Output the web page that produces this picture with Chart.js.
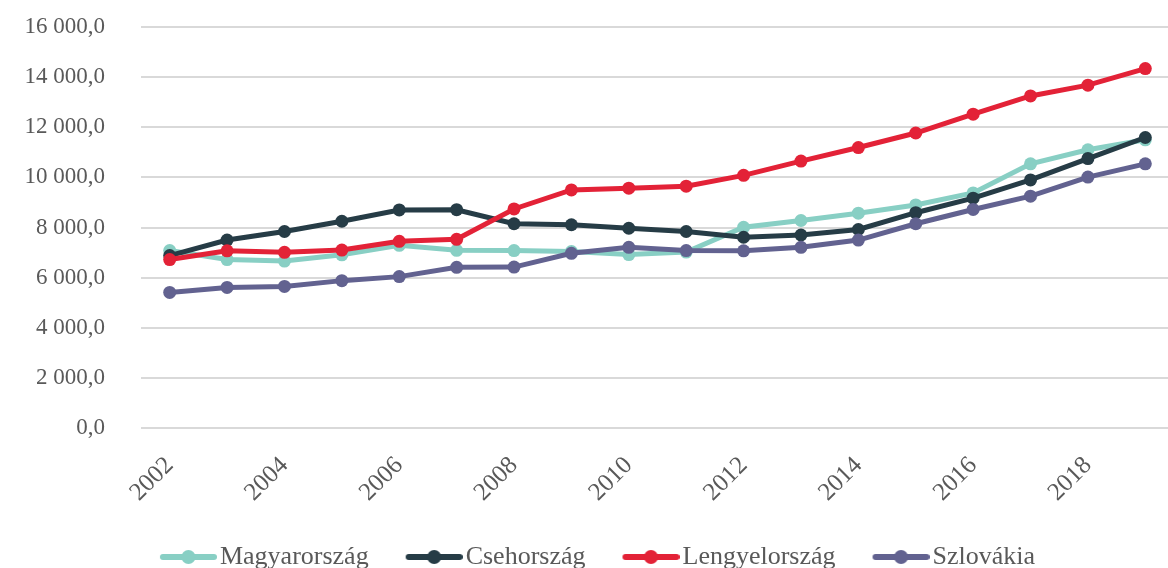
<!DOCTYPE html>
<html>
<head>
<meta charset="utf-8">
<script src="https://cdn.jsdelivr.net/npm/chart.js@4"></script>
<style>
  html, body { margin: 0; padding: 0; background: #fff; overflow: hidden; }
  #wrap { width: 1174px; height: 568px; }
</style>
</head>
<body>
<div id="wrap"><canvas id="chart" width="1174" height="568"></canvas></div>
<script>
const years = [2002, 2003, 2004, 2005, 2006, 2007, 2008, 2009, 2010,
  2011, 2012, 2013, 2014, 2015, 2016, 2017, 2018, 2019];

const magyarorszag = [7080, 6720, 6660, 6910, 7290, 7090, 7080, 7040, 6920,
  7020, 8010, 8280, 8570, 8900, 9380, 10540, 11100, 11500];
const csehorszag = [6880, 7500, 7840, 8250, 8700, 8710, 8150, 8110, 7970,
  7840, 7610, 7700, 7920, 8590, 9170, 9900, 10750, 11590];
const lengyelorszag = [6720, 7070, 7010, 7100, 7450, 7530, 8740, 9500, 9570,
  9650, 10080, 10650, 11190, 11770, 12520, 13250, 13680, 14340];
const szlovakia = [5410, 5610, 5650, 5880, 6040, 6410, 6420, 6970, 7210,
  7080, 7070, 7210, 7500, 8150, 8720, 9250, 10010, 10540];

const seriesNames = ['Magyarország', 'Csehország', 'Lengyelország', 'Szlovákia'];
const seriesColors = ['#88cfc4', '#263c46', '#e32237', '#626290'];

const fontFamily = '"Liberation Serif", serif';
const textColor = '#595959';
const legendFontSize = 26;

// legend marker: line with a dot; blank space on the left gives the gap
// between items, the right end runs up close to the text
function legendMarker(color) {
  let c = document.createElement('canvas');
  c.width = 94;
  c.height = 16;
  let ctx = c.getContext('2d');
  ctx.strokeStyle = color;
  ctx.lineWidth = 6;
  ctx.lineCap = 'round';
  ctx.beginPath();
  ctx.moveTo(40, 8);
  ctx.lineTo(91, 8);
  ctx.stroke();
  ctx.fillStyle = color;
  ctx.beginPath();
  ctx.arc(65.5, 8, 7, 0, Math.PI * 2);
  ctx.fill();
  return c;
}

function formatValue(v) {
  let parts = v.toFixed(1).split('.');
  let intPart = parts[0].replace(/\B(?=(\d{3})+(?!\d))/g, ' ');
  return intPart + ',' + parts[1];
}

const values = [magyarorszag, csehorszag, lengyelorszag, szlovakia];

let datasets = [];
for (let i = 0; i < seriesNames.length; i++) {
  datasets.push({
    label: seriesNames[i],
    data: values[i],
    borderColor: seriesColors[i],
    backgroundColor: seriesColors[i],
    pointBackgroundColor: seriesColors[i],
    pointBorderColor: seriesColors[i],
    borderWidth: 5,
    pointRadius: 6.5,
    pointBorderWidth: 0,
    pointHoverRadius: 7,
    pointStyle: 'circle',
    tension: 0,
    order: seriesNames.length - i
  });
}

let chart = new Chart(document.getElementById('chart').getContext('2d'), {
  type: 'line',
  data: {
    labels: years,
    datasets: datasets
  },
  options: {
    responsive: false,
    animation: false,
    layout: {
      autoPadding: false,
      padding: { top: 27, left: -6, right: 0, bottom: -12 }
    },
    plugins: {
      legend: {
        position: 'bottom',
        labels: {
          usePointStyle: true,
          pointStyleWidth: 74,
          padding: 10,
          color: textColor,
          font: { family: fontFamily, size: legendFontSize },
          sort: (a, b) => a.datasetIndex - b.datasetIndex,
          generateLabels: function (chart) {
            return chart.data.datasets.map((ds, i) => ({
              text: ds.label,
              fillStyle: ds.borderColor,
              strokeStyle: ds.borderColor,
              fontColor: textColor,
              lineWidth: 0,
              pointStyle: legendMarker(ds.borderColor),
              hidden: !chart.isDatasetVisible(i),
              datasetIndex: i
            }));
          }
        }
      },
      tooltip: { enabled: false }
    },
    scales: {
      x: {
        offset: true,
        grid: { display: false, drawTicks: false },
        border: { display: false },
        afterFit: function (scale) {
          scale.height = 106;
          scale.paddingLeft = 0;
          scale.paddingRight = 0;
        },
        ticks: {
          autoSkip: false,
          maxRotation: 45,
          minRotation: 45,
          padding: 23,
          color: textColor,
          font: { family: fontFamily, size: 25 },
          callback: function (value, index) {
            return index % 2 === 0 ? this.getLabelForValue(value) : '';
          }
        }
      },
      y: {
        min: 0,
        max: 16000,
        grid: { color: '#d9d9d9', lineWidth: 2, drawTicks: false },
        border: { display: false },
        afterFit: function (scale) {
          scale.width = 147;
          scale.paddingTop = 0;
          scale.paddingBottom = 0;
        },
        ticks: {
          stepSize: 2000,
          padding: 36,
          color: textColor,
          font: { family: fontFamily, size: 23 },
          callback: (v) => formatValue(v)
        }
      }
    }
  }
});
</script>
</body>
</html>
